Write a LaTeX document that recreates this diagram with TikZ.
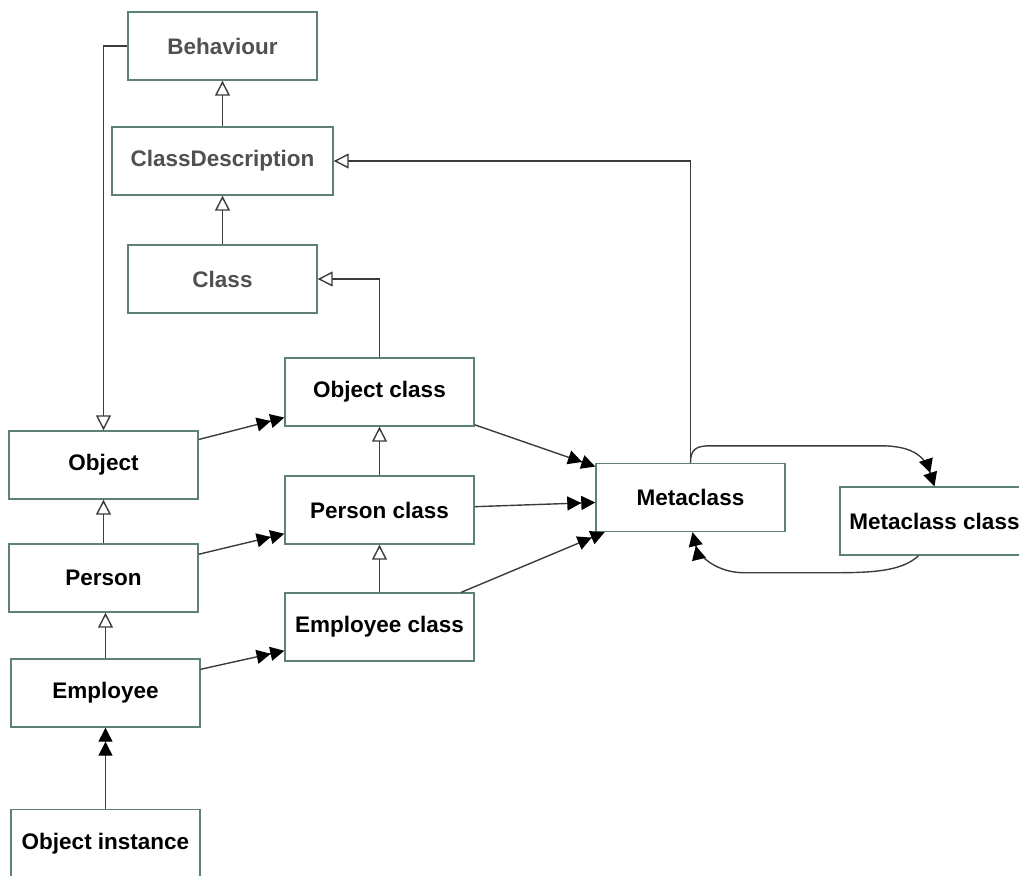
\documentclass[tikz,border=0pt]{standalone}
\usepackage{fontspec}
\setmainfont{Liberation Sans}
\usepackage{tikz}
\usetikzlibrary{arrows.meta,positioning}
\usepackage{xcolor}
\definecolor{mgreen}{HTML}{5E8270}
\definecolor{mgray}{HTML}{505050}
\definecolor{lgray}{HTML}{3C3C3C}
\tikzstyle{cbox}=[rectangle, draw=mgreen, minimum width=94.5pt, minimum height=34pt, line width=0.7, inner sep=0pt, font=\bfseries\fontsize{11.25}{13}\selectfont]
\tikzstyle{gbox}=[cbox, text=mgray]
\tikzstyle{l1}=[line width=0.7, draw=lgray]
\tikzstyle{inh}=[l1, -{Triangle[open, length=7.5pt, width=7.5pt, color=lgray]}]
\tikzstyle{dbl}=[l1, -{Triangle[length=7pt, width=7pt, color=black] Triangle[length=7pt, width=7pt, color=black]}]

\begin{document}
\begin{tikzpicture}[x=0.5pt, y=-0.5pt]
    \useasboundingbox (0,0) rectangle (1019,875);
    \clip (0,0) rectangle (1019,875);

    \node (beh) [gbox] at (222.5,46) {Behaviour};
    \node (cdesc) [gbox, minimum width=110.5pt] at (222.5,161) {ClassDescription};
    \node (cls) [gbox] at (222.5,279) {Class};

    \node (ocls) [cbox] at (379.5,392) {Object class};
    \node (pcls) [cbox] at (379.5,510) {Person class};
    \node (ecls) [cbox] at (379.5,627) {Employee class};

    \node (obj) [cbox] at (103.5,465) {Object};
    \node (per) [cbox] at (103.5,578) {Person};
    \node (emp) [cbox] at (105.5,693) {Employee};
    \node (inst) [cbox] at (105.5,843.5) {Object instance};

    \node (meta) [cbox] at (690.5,497.5) {Metaclass};
    \node (mcls) [cbox] at (934.5,521) {Metaclass class};

    % inheritance
    \draw[inh] (cdesc) -- (beh);
    \draw[inh] (cls) -- (cdesc);
    \draw[inh] (ocls) |- (cls);
    \draw[inh] (meta) |- (cdesc);
    \draw[inh] (beh) -| (obj);
    \draw[inh] (per) -- (obj);
    \draw[inh] (emp) -- (emp |- per.south);
    \draw[inh] (pcls) -- (ocls);
    \draw[inh] (ecls) -- (pcls);

    % instance of
    \draw[dbl] (inst) -- (emp);
    \draw[dbl] (obj.15) -- (ocls.195);
    \draw[dbl] (per.14) -- (pcls.194);
    \draw[dbl] (emp.14) -- (ecls.194);
    \draw[dbl] (ocls.-19) -- (meta.162);
    \draw[dbl] (pcls.2) -- (meta.183);
    \draw[dbl] (ecls.23) -- (meta.202);
    \draw[dbl] (meta.north) .. controls +(0,-14) and +(-14,0) .. ++(20,-17) -- ++(170,0)
        .. controls +(35,0) and +(-9,-28) .. (mcls.north);
    \draw[dbl] ([xshift=-8pt]mcls.south) .. controls +(-15,14) and +(40,0) .. ++(-80,17) -- ++(-95,0)
        .. controls +(-25,0) and +(6,25) .. ([xshift=1pt]meta.south);
\end{tikzpicture}
\end{document}
